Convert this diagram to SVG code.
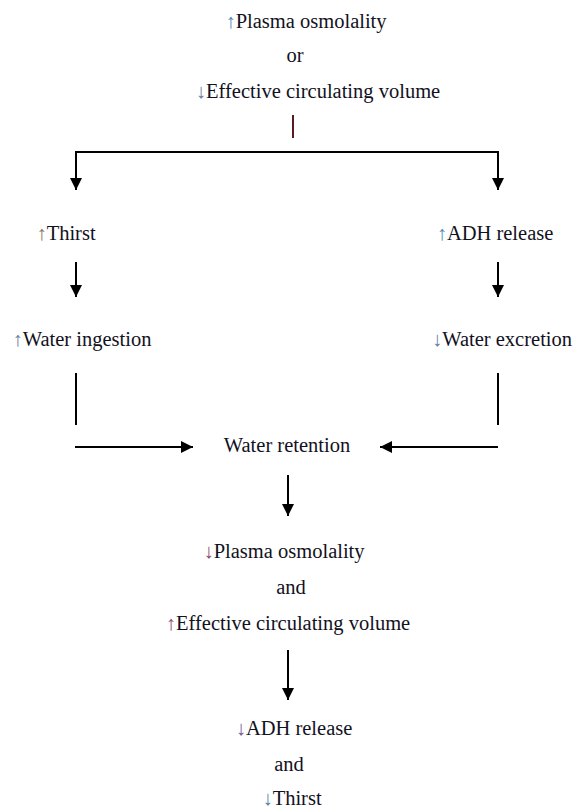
<svg xmlns="http://www.w3.org/2000/svg" width="576" height="811" viewBox="0 0 576 811">
<style>
text{font-family:"Liberation Serif","Times New Roman",serif;font-size:20.5px;fill:#111122;text-anchor:middle}
.ln{stroke:#000;stroke-width:2;fill:none}
.up{fill:#4f86b5}
.upb{fill:#8a6f5a}
.dn{fill:#6a7ea0}
.dp{fill:#8a5070}
.pp{fill:#7a5a9a}
</style>
<defs>
<marker id="ah" markerUnits="userSpaceOnUse" markerWidth="14" markerHeight="14" refX="12" refY="6" orient="auto">
<path d="M0,0 L12,6 L0,12 Z" fill="#000"/>
</marker>
</defs>
<g id="connectors">
<line x1="293" y1="115" x2="293" y2="138" stroke="#5a1a22" stroke-width="2"/>
<line class="ln" x1="75" y1="152" x2="499" y2="152"/>
<line class="ln" x1="76" y1="152" x2="76" y2="190" marker-end="url(#ah)"/>
<line class="ln" x1="498" y1="152" x2="498" y2="190" marker-end="url(#ah)"/>
<line class="ln" x1="76" y1="262" x2="76" y2="297" marker-end="url(#ah)"/>
<line class="ln" x1="498" y1="262" x2="498" y2="297" marker-end="url(#ah)"/>
<line class="ln" x1="76" y1="373" x2="76" y2="425"/>
<line class="ln" x1="498" y1="373" x2="498" y2="425"/>
<line class="ln" x1="75" y1="447" x2="193" y2="447" marker-end="url(#ah)"/>
<line class="ln" x1="498" y1="447" x2="380" y2="447" marker-end="url(#ah)"/>
<line class="ln" x1="288" y1="475" x2="288" y2="516" marker-end="url(#ah)"/>
<line class="ln" x1="288" y1="650" x2="288" y2="700" marker-end="url(#ah)"/>
</g>
<g id="n-top">
<text x="306" y="28"><tspan class="up">↑</tspan>Plasma osmolality</text>
<text x="295" y="62">or</text>
<text x="318" y="98"><tspan class="dn">↓</tspan>Effective circulating volume</text>
</g>
<g id="n-thirst"><text x="66" y="240"><tspan class="upb">↑</tspan>Thirst</text></g>
<g id="n-adh"><text x="495" y="240"><tspan class="up">↑</tspan>ADH release</text></g>
<g id="n-ingestion"><text x="82" y="346"><tspan class="dn">↑</tspan>Water ingestion</text></g>
<g id="n-excretion"><text x="502" y="346"><tspan class="dn">↓</tspan>Water excretion</text></g>
<g id="n-retention"><text x="287" y="452">Water retention</text></g>
<g id="n-result">
<text x="284" y="558"><tspan class="dp">↓</tspan>Plasma osmolality</text>
<text x="291" y="594">and</text>
<text x="288" y="630"><tspan class="dp">↑</tspan>Effective circulating volume</text>
</g>
<g id="n-final">
<text x="294" y="735"><tspan class="pp">↓</tspan>ADH release</text>
<text x="289" y="771">and</text>
<text x="292" y="805"><tspan class="up">↓</tspan>Thirst</text>
</g>
</svg>
